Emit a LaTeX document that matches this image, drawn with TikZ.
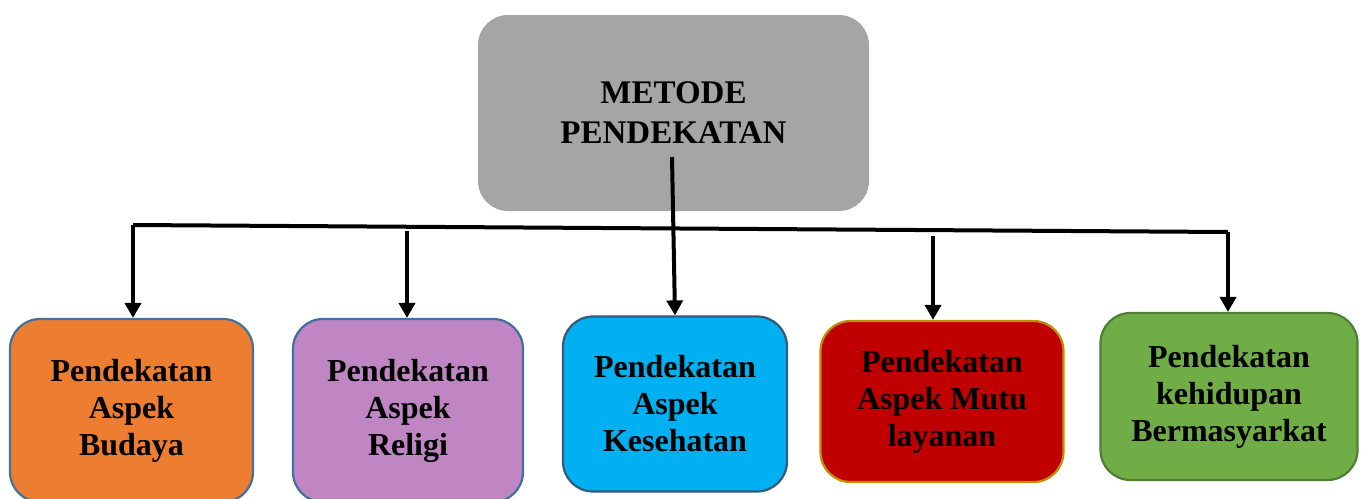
\documentclass[tikz,border=0pt]{standalone}
\usepackage{fontspec}
\setmainfont{Liberation Serif}
\usetikzlibrary{arrows.meta}
\definecolor{topgray}{HTML}{A5A5A5}
\definecolor{cbudaya}{HTML}{ED7D31}
\definecolor{creligi}{HTML}{BF86C3}
\definecolor{ckes}{HTML}{00B0F0}
\definecolor{cmutu}{HTML}{C00000}
\definecolor{cber}{HTML}{70AD47}
\definecolor{bblue}{HTML}{41719C}
\definecolor{bgold}{HTML}{BF9000}
\definecolor{bgreen}{HTML}{507E32}
\tikzset{
  x=0.5pt, y=-0.5pt,
  boxbase/.style={rounded corners=15pt, line width=1.1pt, align=center,
    font=\fontsize{16}{18.5}\selectfont\bfseries, inner sep=0pt},
  arr/.style={line width=2pt, -{Triangle[width=8pt,length=7.5pt]}},
  conn/.style={line width=2pt}
}
\begin{document}
\begin{tikzpicture}
\useasboundingbox (0,0) rectangle (1363,498);
% top box
\node[rounded corners=15pt, fill=topgray, align=center, inner sep=0pt,
  minimum width=195.5pt, minimum height=98pt,
  font=\fontsize{16.5}{20}\selectfont\bfseries] (top) at (673.5,113) {METODE\\PENDEKATAN};
% child boxes
\node[boxbase, fill=cbudaya, draw=bblue, minimum width=121.5pt, minimum height=91.5pt] (b1) at (131.5,410.5) {Pendekatan\\Aspek\\Budaya};
\node[boxbase, fill=creligi, draw=bblue, minimum width=115pt, minimum height=91.5pt] (b2) at (408,410.5) {Pendekatan\\Aspek\\Religi};
\node[boxbase, fill=ckes, draw=bblue!80!black, minimum width=112pt, minimum height=87.5pt] (b3) at (675,404) {Pendekatan\\Aspek\\Kesehatan};
\node[boxbase, fill=cmutu, draw=bgold, minimum width=121.5pt, minimum height=80.5pt] (b4) at (942,401.5) {Pendekatan\\Aspek Mutu\\layanan};
\node[boxbase, fill=cber, draw=bgreen, minimum width=128.5pt, minimum height=83.5pt] (b5) at (1229,396.5) {Pendekatan\\kehidupan\\Bermasyarkat};
% connector coordinates
\coordinate (hl) at (133,225);
\coordinate (hr) at (1228,232);
\coordinate (c0) at (672,157);
\coordinate (c2) at (407,231);
\coordinate (c4) at (933,236);
\draw[conn] (hl) -- (hr);
\draw[arr] (hl) -- (b1.north -| hl);
\draw[arr] (c2) -- (b2.north -| c2);
\draw[arr] (c0) -- (b3.north);
\draw[arr] (c4) -- (b4.north -| c4);
\draw[arr] (hr) -- (b5.north -| hr);
\end{tikzpicture}
\end{document}
